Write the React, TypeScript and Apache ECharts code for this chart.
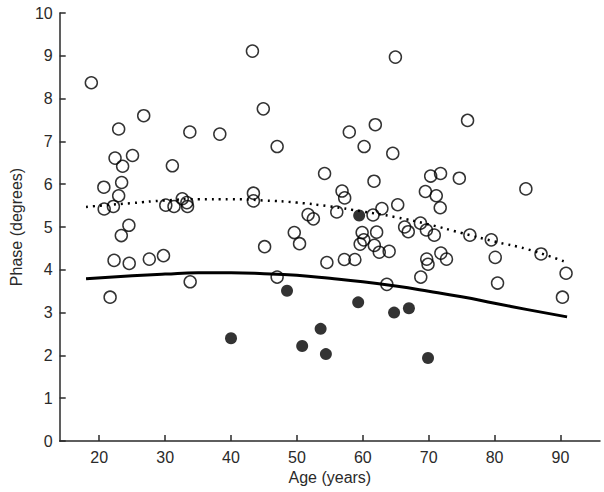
import React, { useEffect, useRef } from "react";
import * as echarts from "echarts";

const openAges = [18.8, 26.75, 22.95, 33.75, 38.3, 22.4, 25.05, 23.55, 31.1, 20.7, 23.4, 22.95, 32.6, 20.75, 22.15, 24.5, 23.35, 30.1, 31.35, 33.3, 33.4, 22.25, 24.55, 27.6, 29.75, 21.65, 33.8, 43.25, 64.95, 44.9, 57.95, 61.9, 47.0, 60.2, 64.55, 54.2, 61.7, 43.4, 43.4, 56.85, 57.25, 51.7, 52.5, 56.05, 61.55, 62.9, 65.3, 66.35, 66.9, 49.6, 50.4, 45.1, 59.9, 60.15, 62.1, 61.75, 59.6, 62.5, 64.0, 54.55, 57.2, 58.8, 47.0, 63.65, 75.9, 70.3, 71.8, 74.65, 84.75, 69.5, 71.15, 71.75, 68.75, 69.65, 70.85, 76.25, 79.5, 87.05, 90.85, 90.3, 80.1, 80.45, 71.85, 72.7, 69.7, 69.9, 68.8];
const openPhases = [8.37, 7.6, 7.29, 7.22, 7.17, 6.61, 6.67, 6.42, 6.43, 5.93, 6.04, 5.73, 5.66, 5.42, 5.48, 5.04, 4.8, 5.51, 5.48, 5.57, 5.48, 4.22, 4.15, 4.25, 4.33, 3.36, 3.72, 9.11, 8.97, 7.76, 7.22, 7.39, 6.88, 6.88, 6.72, 6.25, 6.07, 5.79, 5.61, 5.84, 5.68, 5.29, 5.19, 5.35, 5.28, 5.43, 5.52, 5.0, 4.89, 4.87, 4.61, 4.54, 4.87, 4.7, 4.88, 4.57, 4.6, 4.41, 4.43, 4.17, 4.24, 4.24, 3.83, 3.66, 7.49, 6.19, 6.25, 6.14, 5.89, 5.83, 5.73, 5.45, 5.09, 4.93, 4.81, 4.81, 4.7, 4.37, 3.92, 3.36, 4.29, 3.69, 4.39, 4.25, 4.25, 4.13, 3.83];

const filledAges = [59.45, 48.5, 59.3, 64.75, 67.0, 53.6, 50.8, 54.4, 40.0, 69.9];
const filledPhases = [5.27, 3.51, 3.24, 3.0, 3.1, 2.62, 2.22, 2.03, 2.4, 1.94];

const curveAges = [18, 25, 30, 35, 40, 45, 50, 55, 60, 65, 70, 75, 80, 85, 91];
const solidFit = [3.79, 3.86, 3.9, 3.93, 3.93, 3.91, 3.87, 3.8, 3.72, 3.62, 3.5, 3.37, 3.22, 3.07, 2.9];
const dottedFit = [5.47, 5.56, 5.62, 5.65, 5.65, 5.62, 5.57, 5.48, 5.36, 5.23, 5.06, 4.86, 4.66, 4.48, 4.17];

const xTicks = [20, 30, 40, 50, 60, 70, 80, 90];

const zip = (a: number[], b: number[]) => a.map((v, i) => [v, b[i]]);

export default function App() {
  const ref = useRef<HTMLDivElement>(null);
  useEffect(() => {
    if (!ref.current) return;
    const chart = echarts.init(ref.current, null, { renderer: "svg" });
    const font = "Liberation Sans, Arial, sans-serif";
    const axisColor = "#2a2a2a";
    chart.setOption({
      animation: false,
      backgroundColor: "#ffffff",
      grid: { left: 53, right: 4, top: 13, bottom: 51, containLabel: false },
      xAxis: {
        type: "value",
        min: 14,
        max: 96,
        name: "Age (years)",
        nameLocation: "middle",
        nameGap: 28,
        nameTextStyle: { fontSize: 16, color: axisColor, fontFamily: font },
        axisLine: { show: true, lineStyle: { color: axisColor, width: 1.5 } },
        axisTick: { show: true, inside: true, length: 6, customValues: xTicks, lineStyle: { color: axisColor, width: 1.5 } },
        axisLabel: { customValues: xTicks, margin: 8, fontSize: 16, color: axisColor, fontFamily: font },
        splitLine: { show: false },
      },
      yAxis: {
        type: "value",
        min: 0,
        max: 10,
        interval: 1,
        name: "Phase (degrees)",
        nameLocation: "middle",
        nameGap: 33,
        nameRotate: 90,
        nameTextStyle: { fontSize: 16, color: axisColor, fontFamily: font },
        axisLine: { show: true, lineStyle: { color: axisColor, width: 1.5 } },
        axisTick: { show: true, inside: true, length: 6, lineStyle: { color: axisColor, width: 1.5 } },
        axisLabel: { margin: 7, fontSize: 16, color: axisColor, fontFamily: font },
        splitLine: { show: false },
      },
      series: [
        {
          type: "scatter",
          data: zip(openAges, openPhases),
          symbol: "circle",
          symbolSize: 12,
          itemStyle: { color: "rgba(255,255,255,0)", borderColor: "#000", borderWidth: 1.5 },
          z: 2,
        },
        {
          type: "scatter",
          data: zip(filledAges, filledPhases),
          symbol: "circle",
          symbolSize: 12,
          itemStyle: { color: "#000" },
          z: 2,
        },
        {
          type: "line",
          data: zip(curveAges, solidFit),
          smooth: true,
          showSymbol: false,
          lineStyle: { color: "#000", width: 3 },
          z: 3,
        },
        {
          type: "line",
          data: zip(curveAges, dottedFit),
          smooth: true,
          showSymbol: false,
          lineStyle: { color: "#000", width: 2.5, type: [2, 5] },
          z: 3,
        },
      ],
    });
    return () => chart.dispose();
  }, []);
  return (
    <div
      ref={ref}
      style={{ position: "fixed", left: 0, top: 0, width: 604, height: 492, background: "#fff" }}
    />
  );
}
